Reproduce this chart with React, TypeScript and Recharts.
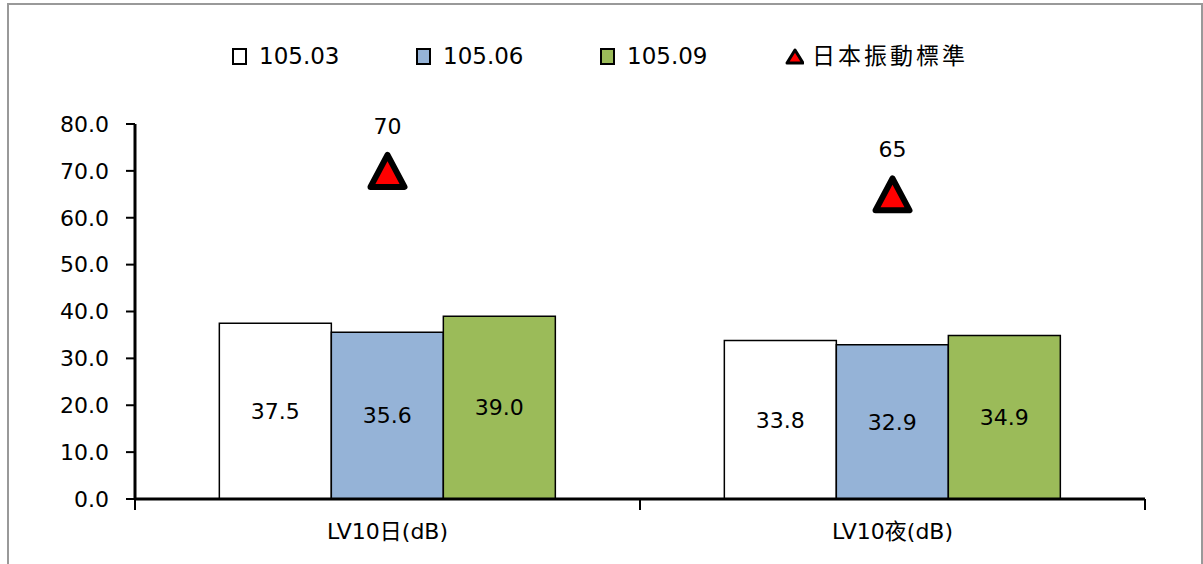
import { ComposedChart, Bar, Line, XAxis, YAxis, LabelList, Legend } from 'recharts';

const categories = ['LV10日(dB)', 'LV10夜(dB)'];
const series0503 = [37.5, 33.8];
const series0506 = [35.6, 32.9];
const series0509 = [39.0, 34.9];
const standard = [70, 65];
const yTicks = [0, 10, 20, 30, 40, 50, 60, 70, 80];

const seriesNames = ['105.03', '105.06', '105.09', '日本振動標準'];
const colors = ['#ffffff', '#95b3d7', '#9bbb59'];

const data = categories.map((name, i) => ({
  name,
  s1: series0503[i],
  s2: series0506[i],
  s3: series0509[i],
  std: standard[i],
}));

const W = 1203;
const H = 564;
// legend sits at the top and Recharts adds its height to the top offset
const margin = { top: 96, right: 58, left: 0, bottom: 25 };
const yAxisWidth = 135;
const plotW = W - margin.left - margin.right - yAxisWidth;
const halfBand = plotW / categories.length / 2;
const FONT = '"DejaVu Sans", Verdana, "Noto Sans CJK TC", sans-serif';

const Triangle = (props: any) => {
  const { cx, cy } = props;
  if (cx == null || cy == null) return null;
  return (
    <path
      d={`M${cx},${cy - 16} L${cx + 17},${cy + 16} L${cx - 17},${cy + 16} Z`}
      fill="#ff0000"
      stroke="#000"
      strokeWidth={6}
      strokeLinejoin="round"
    />
  );
};

const XTick = (props: any) => {
  const { x, y, payload } = props;
  const last = payload.index === categories.length - 1;
  return (
    <g>
      <line x1={x - halfBand} x2={x - halfBand} y1={y - 8} y2={y + 3} stroke="#000" strokeWidth={2} />
      {last && <line x1={x + halfBand} x2={x + halfBand} y1={y - 8} y2={y + 3} stroke="#000" strokeWidth={2} />}
      <text x={x} y={y + 26} textAnchor="middle" dominantBaseline="middle" fontSize={22} fill="#000" fontFamily={FONT}>
        {payload.value}
      </text>
    </g>
  );
};

const StdLabel = (props: any) => {
  const { x, y, value } = props;
  return (
    <text x={x} y={y - 43} textAnchor="middle" dominantBaseline="middle" fontSize={22} fill="#000" fontFamily={FONT}>
      {value}
    </text>
  );
};

const LegendContent = () => (
  <div style={{ display: 'flex', paddingLeft: 232, fontFamily: FONT, fontSize: 23, color: '#000', lineHeight: '28px' }}>
    {seriesNames.map((n, i) => (
      <div key={n} style={{ width: 184, display: 'flex', alignItems: 'center' }}>
        {i < 3 ? (
          <span
            style={{
              display: 'inline-block',
              width: 11,
              height: 13,
              background: colors[i],
              border: '2px solid #000',
              marginRight: 12,
            }}
          />
        ) : (
          <svg width={22} height={20} style={{ marginRight: 8 }}>
            <path d="M11,4 L19,17 L3,17 Z" fill="#ff0000" stroke="#000" strokeWidth={3} strokeLinejoin="round" />
          </svg>
        )}
        <span style={{ whiteSpace: 'nowrap', letterSpacing: i === 3 ? 3 : 0 }}>{n}</span>
      </div>
    ))}
  </div>
);

export default function App() {
  return (
    <div style={{ position: 'fixed', left: 0, top: 0, width: W, height: H, background: '#fff' }}>
      <div
        style={{
          position: 'absolute',
          left: 7,
          top: 3,
          width: 1192,
          height: 600,
          borderLeft: '2px solid #999',
          borderTop: '2px solid #999',
          borderRight: '2px solid #999',
        }}
      />
      <ComposedChart
        width={W}
        height={H}
        data={data}
        margin={margin}
        barCategoryGap="16.7%"
        barGap={0}
        style={{ position: 'absolute', left: 0, top: 0 }}
      >
        <XAxis
          dataKey="name"
          height={40}
          axisLine={{ stroke: '#000', strokeWidth: 3 }}
          tickLine={false}
          tick={<XTick />}
          interval={0}
        />
        <YAxis
          width={yAxisWidth}
          domain={[0, 80]}
          ticks={yTicks}
          interval={0}
          tickFormatter={(v: number) => v.toFixed(1)}
          axisLine={{ stroke: '#000', strokeWidth: 3 }}
          tickLine={{ stroke: '#000', strokeWidth: 2 }}
          tickSize={9}
          tickMargin={17}
          tick={{ fontSize: 22, fill: '#000', fontFamily: FONT }}
        />
        <Legend verticalAlign="top" wrapperStyle={{ top: 42, left: 0, width: W }} content={<LegendContent />} />
        {(['s1', 's2', 's3'] as const).map((k, i) => (
          <Bar key={k} dataKey={k} name={seriesNames[i]} fill={colors[i]} stroke="#000" strokeWidth={1.5} isAnimationActive={false}>
            <LabelList
              dataKey={k}
              position="center"
              formatter={(v: any) => Number(v).toFixed(1)}
              style={{ fontSize: 22, fill: '#000', fontFamily: FONT }}
            />
          </Bar>
        ))}
        <Line
          dataKey="std"
          name={seriesNames[3]}
          stroke="none"
          dot={<Triangle />}
          activeDot={false}
          isAnimationActive={false}
          label={<StdLabel />}
        />
      </ComposedChart>
    </div>
  );
}
